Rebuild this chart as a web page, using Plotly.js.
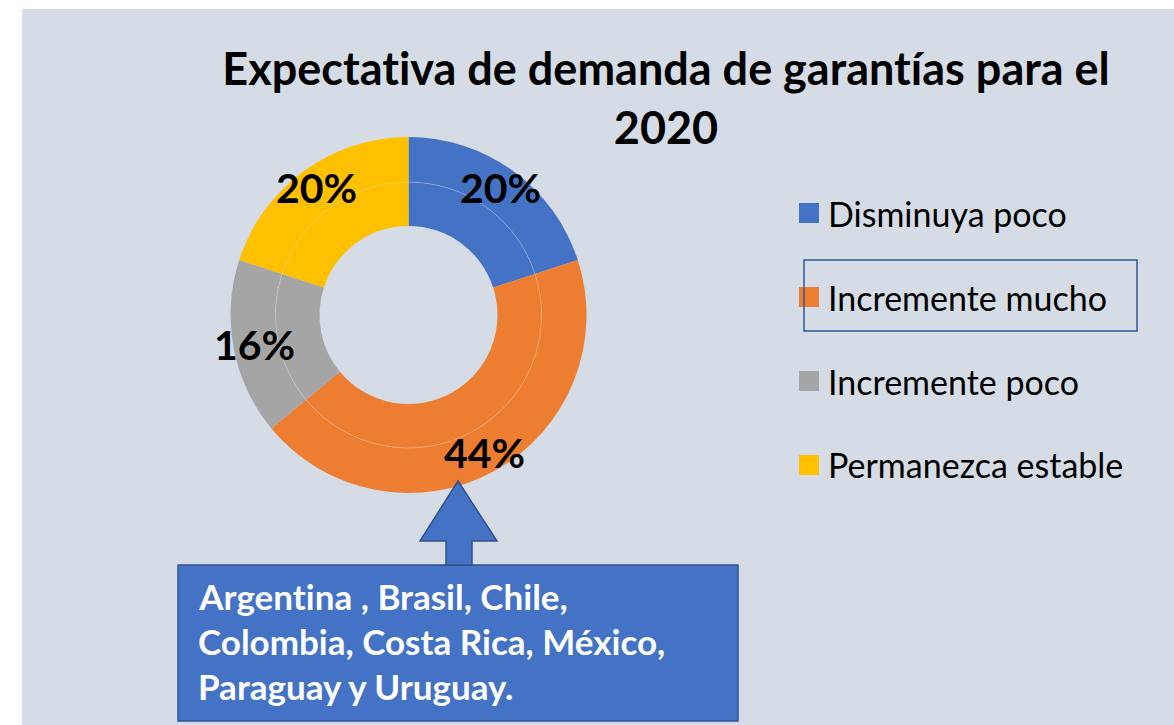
<!DOCTYPE html>
<html>
<head>
<meta charset="utf-8">
<script src="https://cdn.plot.ly/plotly-3.0.1.min.js"></script>
<style>
html,body{margin:0;padding:0;background:#fff;}
#chart{width:1174px;height:725px;}
#chart text{font-variant-ligatures:none;font-feature-settings:"liga" 0, "clig" 0;}
</style>
</head>
<body>
<div id="chart"></div>
<script>
// ---- data ----
const categories = ["Disminuya poco", "Incremente mucho", "Incremente poco", "Permanezca estable"];
const values = [20, 44, 16, 20];
const colors = ["#4472C4", "#ED7D31", "#A5A5A5", "#FFC000"];
const titleText = "Expectativa de demanda de garantías para el<br>2020";
const calloutLines = ["Argentina , Brasil, Chile,", "Colombia, Costa Rica, México,", "Paraguay y Uruguay."];
const highlighted = "Incremente mucho";

// ---- layout helpers (pixel -> paper) ----
const W = 1174, H = 725;
const X = px => px / W;
const Y = py => 1 - py / H;
const cx = 408.5, cy = 315, rOut = 178, rMid = 133, rIn = 89;
const font = "Lato, 'Open Sans', sans-serif";

const traces = [
  {
    type: "pie", labels: categories, values: values, sort: false, direction: "clockwise", rotation: 0,
    hole: rMid / rOut, marker: {colors: colors, line: {width: 0}}, textinfo: "none", hoverinfo: "label+percent",
    showlegend: false,
    domain: {x: [X(cx - rOut), X(cx + rOut)], y: [Y(cy + rOut), Y(cy - rOut)]}
  },
  {
    type: "pie", labels: categories, values: values, sort: false, direction: "clockwise", rotation: 0,
    hole: rIn / rMid, marker: {colors: colors, line: {width: 0}}, textinfo: "none", hoverinfo: "label+percent",
    showlegend: false,
    domain: {x: [X(cx - rMid), X(cx + rMid)], y: [Y(cy + rMid), Y(cy - rMid)]}
  }
];

const shapes = [
  {type: "rect", xref: "paper", yref: "paper", x0: X(22), x1: X(1174), y0: Y(725), y1: Y(9),
   fillcolor: "#D6DCE5", line: {width: 0}, layer: "below"},
  {type: "circle", xref: "paper", yref: "paper", x0: X(cx - rMid), x1: X(cx + rMid), y0: Y(cy + rMid), y1: Y(cy - rMid),
   line: {color: "rgba(255,255,255,0.3)", width: 0.8}, layer: "above"},
  // callout box
  {type: "rect", xref: "paper", yref: "paper", x0: X(178), x1: X(738), y0: Y(721), y1: Y(565),
   fillcolor: "#4472C4", line: {color: "#2F528F", width: 1.5}, layer: "above"},
  // arrow
  {type: "path", xref: "paper", yref: "paper",
   path: `M ${X(458)} ${Y(481)} L ${X(497)} ${Y(541)} L ${X(472)} ${Y(541)} L ${X(472)} ${Y(565)} L ${X(446)} ${Y(565)} L ${X(446)} ${Y(541)} L ${X(420)} ${Y(541)} Z`,
   fillcolor: "#4472C4", line: {color: "#2F528F", width: 1.5}, layer: "above"}
];

const annotations = [];
// data labels at mid-angle of each slice
const total = values.reduce((a, b) => a + b, 0);
let cum = 0;
const rLab = 157;
values.forEach((v, i) => {
  const th = (cum + v / 2) / total * 2 * Math.PI;
  cum += v;
  annotations.push({
    xref: "paper", yref: "paper", x: X(cx + rLab * Math.sin(th)), y: Y(cy - rLab * Math.cos(th)),
    text: Math.round(v / total * 100) + "%", showarrow: false, xanchor: "center", yanchor: "middle",
    font: {family: font, size: 41, color: "#000", weight: "bold"}
  });
});

// manual legend
const legTop = 213, legGap = 84;
categories.forEach((c, i) => {
  const yc = legTop + i * legGap;
  shapes.push({type: "rect", xref: "paper", yref: "paper", x0: X(799), x1: X(819), y0: Y(yc + 10), y1: Y(yc - 10),
    fillcolor: colors[i], line: {width: 0}, layer: "above"});
  annotations.push({xref: "paper", yref: "paper", x: X(826), y: Y(yc), text: c, showarrow: false,
    xanchor: "left", yanchor: "middle", font: {family: font, size: 34, color: "#000"}});
  if (c === highlighted) {
    shapes.push({type: "rect", xref: "paper", yref: "paper", x0: X(804), x1: X(1137), y0: Y(yc + 34), y1: Y(yc - 37),
      fillcolor: "rgba(0,0,0,0)", line: {color: "#2F5597", width: 1.5}, layer: "above"});
  }
});

// callout text
calloutLines.forEach((t, i) => {
  annotations.push({xref: "paper", yref: "paper", x: X(196), y: Y(596 + i * 45), text: t, showarrow: false,
    xanchor: "left", yanchor: "middle", font: {family: font, size: 35, color: "#fff", weight: "bold"}});
});

const layout = {
  width: W, height: H,
  margin: {l: 0, r: 0, t: 0, b: 0},
  paper_bgcolor: "#ffffff",
  title: {text: titleText, x: X(666), xanchor: "center", xref: "paper", y: Y(85), yanchor: "top", yref: "paper",
    font: {family: font, size: 45, color: "#000", weight: "bold"}},
  showlegend: false,
  shapes: shapes,
  annotations: annotations
};

Plotly.newPlot("chart", traces, layout, {displayModeBar: false, staticPlot: true});
</script>
</body>
</html>
